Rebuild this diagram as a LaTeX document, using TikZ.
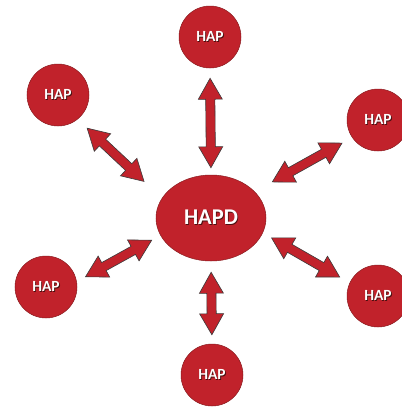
\documentclass[tikz,border=0pt]{standalone}
\usepackage{fontspec}
\setmainfont{Carlito}
\usetikzlibrary{calc,shapes.geometric}

\definecolor{hapred}{HTML}{C1222B}
\definecolor{hapedge}{HTML}{8A1C20}
\definecolor{arrowedge}{HTML}{3A3A3A}
\definecolor{txtshadow}{HTML}{4A1010}

% white label with a faint drop shadow
\newcommand\shadowed[1]{\makebox[0pt][l]{\hspace{0.8pt}\raisebox{-0.8pt}{\color{txtshadow}#1}}#1}

% block arrow geometry
\newcommand\blkhead{21pt}
\newcommand\blkwide{12pt}
\newcommand\blkshaft{4.6pt}

\tikzset{
  hapnode/.style={circle, fill=hapred, draw=hapedge, line width=0.5pt,
    minimum size=62pt, inner sep=0pt, text=white,
    font=\fontsize{15.5}{18}\selectfont\bfseries},
  hubnode/.style={ellipse, fill=hapred, draw=hapedge, line width=0.5pt,
    minimum width=110pt, minimum height=86pt, inner sep=0pt, text=white,
    font=\fontsize{22.5}{26}\selectfont\bfseries},
  gap a/.store in=\blkgapa, gap b/.store in=\blkgapb,
  gap a=8pt, gap b=8pt,
  blockarrow/.style={draw=arrowedge, fill=hapred, line width=0.6pt, line join=miter,
    to path={
      ($(\tikztostart)!\blkgapa!(\tikztotarget)$) coordinate (ba-s)
      ($(\tikztotarget)!\blkgapb!(\tikztostart)$) coordinate (ba-e)
      (ba-s)
      -- ($(ba-s)!\blkhead!(ba-e)!\blkwide!90:(ba-e)$)
      -- ($(ba-s)!\blkhead!(ba-e)!\blkshaft!90:(ba-e)$)
      -- ($(ba-e)!\blkhead!(ba-s)!\blkshaft!-90:(ba-s)$)
      -- ($(ba-e)!\blkhead!(ba-s)!\blkwide!-90:(ba-s)$)
      -- (ba-e)
      -- ($(ba-e)!\blkhead!(ba-s)!\blkwide!90:(ba-s)$)
      -- ($(ba-e)!\blkhead!(ba-s)!\blkshaft!90:(ba-s)$)
      -- ($(ba-s)!\blkhead!(ba-e)!\blkshaft!-90:(ba-e)$)
      -- ($(ba-s)!\blkhead!(ba-e)!\blkwide!-90:(ba-e)$)
      -- cycle
    }}
}

\begin{document}
\begin{tikzpicture}[x=1pt,y=-1pt]
  \useasboundingbox (0,0) rectangle (402,408);
  \clip (0,0) rectangle (402,408);
  \fill[white] (0,0) rectangle (402,408);

  % hub and the six access points
  \node[hubnode] (hapd) at (211,218) {\shadowed{HAPD}};
  \node[hapnode] (hapt)  at (210,37)  {\shadowed{HAP}};
  \node[hapnode] (hapul) at (58,95)   {\shadowed{HAP}};
  \node[hapnode] (hapur) at (378,120) {\shadowed{HAP}};
  \node[hapnode] (hapll) at (46,287)  {\shadowed{HAP}};
  \node[hapnode] (haplr) at (378,296) {\shadowed{HAP}};
  \node[hapnode] (hapb)  at (212,375) {\shadowed{HAP}};

  % two-way links
  \draw[blockarrow, gap a=7pt,    gap b=10pt]   (hapd.north) to (hapt.south);
  \draw[blockarrow, gap a=11pt,   gap b=9pt]    (hapd.south) to (hapb.north);
  \draw[blockarrow, gap a=24.5pt, gap b=13pt]   (hapd.158)   to (hapul.-51);
  \draw[blockarrow, gap a=20pt,   gap b=11.5pt] (hapd.31)    to (hapur.214);
  \draw[blockarrow, gap a=10pt,   gap b=10pt]   (hapd.199)   to (hapll.10);
  \draw[blockarrow, gap a=10pt,   gap b=11.5pt] (hapd.-16)   to (haplr.155);
\end{tikzpicture}
\end{document}
